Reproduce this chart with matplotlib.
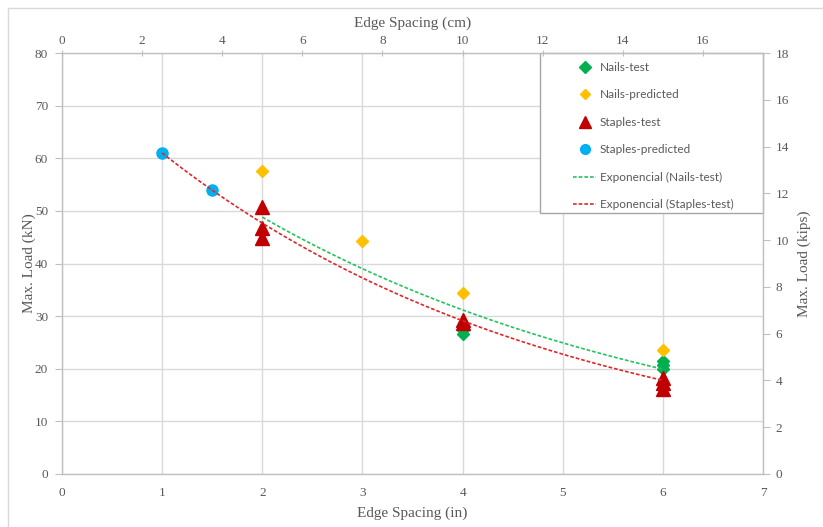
import numpy as np
import matplotlib
matplotlib.use("Agg")
import matplotlib.pyplot as plt
from matplotlib.lines import Line2D
from matplotlib.patches import Rectangle

# Data (edge spacing in inches, max load in kN)
nails_test_x = [4, 4, 6, 6, 6]
nails_test_y = [27.4, 26.6, 21.5, 20.8, 20.0]

nails_pred_x = [2, 3, 4, 6]
nails_pred_y = [57.5, 44.2, 34.4, 23.6]

staples_test_x = [2, 2, 2, 4, 4, 6, 6, 6]
staples_test_y = [50.7, 46.8, 44.9, 29.3, 28.6, 18.3, 17.2, 16.2]

staples_pred_x = [1, 1.5]
staples_pred_y = [61.0, 54.0]

# Excel exponential trend lines, y = a * exp(-b * x), and their x range
nails_trend = [76.4, 0.224]
nails_trend_range = [2, 6]
staples_trend = [78.05, 0.2464]
staples_trend_range = [1, 6]

GREEN = "#00b050"
ORANGE = "#ffc000"
DARK_RED = "#c00000"
BLUE = "#00b0f0"
TEXT = "#595959"
GRID = "#d9d9d9"
SPINE = "#bfbfbf"

SERIF = "Liberation Serif"
SANS = "Lato"

fig = plt.figure(figsize=(8.23, 5.27), dpi=100)
ax = fig.add_axes([62 / 823, 53 / 527, 701 / 823, 421 / 527])

# trend lines
for (a, b), (x0, x1), col in [(nails_trend, nails_trend_range, "#22c35e"),
                              (staples_trend, staples_trend_range, "#e0262a")]:
    xs = np.linspace(x0, x1, 100)
    ax.plot(xs, a * np.exp(-b * xs), color=col, lw=1.2, ls=(0, (2.2, 1.2)), zorder=4)

# markers
ax.plot(nails_test_x, nails_test_y, ls="none", marker="D", ms=6.5, color=GREEN, zorder=3)
ax.plot(nails_pred_x, nails_pred_y, ls="none", marker="D", ms=6, color=ORANGE, zorder=3)
ax.plot(staples_test_x, staples_test_y, ls="none", marker="^", ms=10.5, color=DARK_RED, zorder=3)
ax.plot(staples_pred_x, staples_pred_y, ls="none", marker="o", ms=8, color=BLUE, zorder=3)

ax.set_xlim(0, 7)
ax.set_ylim(0, 80)
ax.set_xticks(range(0, 8))
ax.set_yticks(range(0, 81, 10))
ax.grid(True, color=GRID, lw=1)
ax.set_axisbelow(True)
for s in ax.spines.values():
    s.set_color(SPINE)
ax.tick_params(axis="x", length=0, pad=9, labelsize=9.5, labelcolor=TEXT)
ax.tick_params(axis="y", length=5, color=SPINE, pad=5, labelsize=9.5, labelcolor=TEXT)
for lbl in ax.get_xticklabels() + ax.get_yticklabels():
    lbl.set_fontfamily(SERIF)
ax.set_xlabel("Edge Spacing (in)", fontfamily=SERIF, fontsize=11, color=TEXT, labelpad=6)
ax.set_ylabel("Max. Load (kN)", fontfamily=SERIF, fontsize=11, color=TEXT, labelpad=-1)

# secondary axes: kips on the right, cm on top
axr = ax.twinx()
axr.set_ylim(0, 18)
axr.set_yticks(range(0, 19, 2))
axr.tick_params(axis="y", length=5, color=SPINE, pad=4, labelsize=9.5, labelcolor=TEXT)
for lbl in axr.get_yticklabels():
    lbl.set_fontfamily(SERIF)
axr.set_ylabel("Max. Load (kips)", fontfamily=SERIF, fontsize=11, color=TEXT, labelpad=6)

axt = ax.twiny()
axt.set_xlim(0, 17.5)
axt.set_xticks(range(0, 17, 2))
axt.tick_params(axis="x", direction="inout", length=5, color=SPINE, pad=2,
                labelsize=9.5, labelcolor=TEXT)
for lbl in axt.get_xticklabels():
    lbl.set_fontfamily(SERIF)
axt.set_xlabel("Edge Spacing (cm)", fontfamily=SERIF, fontsize=11, color=TEXT, labelpad=6)
for a_ in (axr, axt):
    for s in a_.spines.values():
        s.set_color(SPINE)

# legend with a manual frame
ax.add_patch(Rectangle((478 / 701, 1 - 160 / 421), 223 / 701, 160 / 421,
                       transform=ax.transAxes, fill=True, facecolor="white",
                       edgecolor="#a6a6a6", lw=1, zorder=5, clip_on=False))
handles = [
    Line2D([], [], ls="none", marker="D", ms=6, color=GREEN),
    Line2D([], [], ls="none", marker="D", ms=5.5, color=ORANGE),
    Line2D([], [], ls="none", marker="^", ms=8, color=DARK_RED),
    Line2D([], [], ls="none", marker="o", ms=7, color=BLUE),
    Line2D([], [], color="#22c35e", lw=1.2, ls=(0, (2.2, 1.2))),
    Line2D([], [], color="#e0262a", lw=1.2, ls=(0, (2.2, 1.2))),
]
labels = ["Nails-test", "Nails-predicted", "Staples-test", "Staples-predicted",
          "Exponencial (Nails-test)", "Exponencial (Staples-test)"]
leg = ax.legend(handles, labels, loc="upper left",
                bbox_to_anchor=(506 / 701, 1 - 4 / 421), frameon=False,
                prop={"family": SANS, "size": 8.5}, labelcolor=TEXT,
                labelspacing=1.4, handlelength=2.0, handletextpad=0.3,
                borderpad=0.4, borderaxespad=0)
leg.set_zorder(6)

# outer chart border (top and left edges visible)
fig.add_artist(Line2D([8 / 823, 1], [1 - 8 / 527, 1 - 8 / 527], color="#d9d9d9", lw=1))
fig.add_artist(Line2D([8 / 823, 8 / 823], [0, 1 - 8 / 527], color="#d9d9d9", lw=1))

fig.savefig("out.png", dpi=100)
